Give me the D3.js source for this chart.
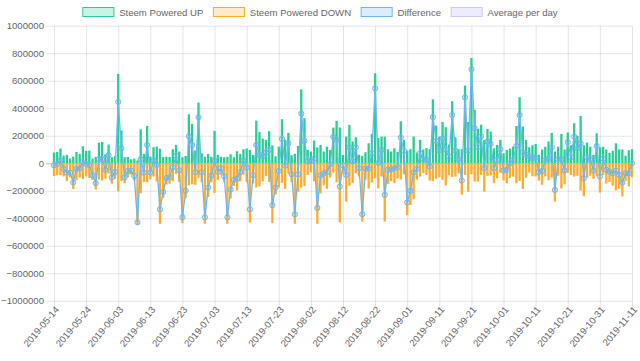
<!DOCTYPE html>
<html><head><meta charset="utf-8">
<script src="https://cdn.jsdelivr.net/npm/d3@7"></script>
<style>body{margin:0;background:#fff}svg{display:block}text{font-family:"Liberation Sans",Arial,Helvetica,sans-serif}</style>
</head><body><svg id="c" width="640" height="361"></svg>
<script>
// ---- data ----
const startDate = "2019-05-14", endDate = "2019-11-11", skippedDate = "2019-11-03";
const tickLabels = ["2019-05-14","2019-05-24","2019-06-03","2019-06-13","2019-06-23","2019-07-03","2019-07-13","2019-07-23","2019-08-02","2019-08-12","2019-08-22","2019-09-01","2019-09-11","2019-09-21","2019-10-01","2019-10-11","2019-10-21","2019-10-31","2019-11-11"];
const yTickValues = [1000000,800000,600000,400000,200000,0,-200000,-400000,-600000,-800000,-1000000];
const seriesNames = ["Steem Powered UP","Steem Powered DOWN","Difference","Average per day"];
const UNIT = 1000;
// values in thousands
const poweredUpK = [78,82,107,56,61,34,48,82,68,124,
90,92,34,46,150,155,65,136,44,51,
650,238,44,46,29,34,20,247,68,271,
48,116,121,106,44,48,46,102,133,85,
43,53,356,286,92,441,73,47,68,48,
235,61,48,44,47,65,44,87,68,102,
107,96,60,310,228,179,170,233,130,50,
121,320,170,220,58,69,126,538,327,97,
85,165,115,133,85,121,97,259,308,260,
60,194,279,158,189,61,53,80,145,213,
654,184,194,194,102,85,109,82,305,170,
92,102,194,78,170,100,110,102,465,274,
194,300,262,136,451,189,102,102,565,300,
765,388,250,280,170,250,230,109,133,170,
73,97,107,121,271,480,267,170,116,130,
140,61,100,120,158,220,85,120,213,100,
223,130,291,200,344,131,150,120,60,218,
116,120,100,75,90,145,100,100,55,95,102];
const poweredDownK = [-93,-87,-87,-96,-129,-102,-188,-123,-104,-114,
-95,-107,-121,-191,-119,-126,-113,-76,-148,-114,
-204,-129,-146,-102,-82,-126,-449,-218,-136,-138,
-116,-96,-133,-441,-252,-155,-148,-131,-77,-136,
-436,-252,-160,-153,-157,-106,-138,-440,-245,-138,
-216,-122,-84,-139,-440,-256,-165,-198,-131,-83,
-138,-431,-147,-177,-167,-131,-92,-136,-435,-227,
-177,-143,-187,-75,-138,-440,-206,-177,-165,-85,
-66,-131,-440,-220,-160,-186,-104,-68,-138,-430,
-75,-279,-163,-143,-73,-97,-424,-119,-184,-140,
-109,-182,-97,-424,-150,-129,-145,-111,-118,-80,
-378,-303,-262,-119,-97,-71,-86,-126,-130,-112,
-102,-120,-162,-88,-100,-97,-73,-228,-86,-208,
-81,-133,-134,-84,-206,-92,-89,-145,-109,-68,
-126,-145,-107,-97,-145,-129,-187,-105,-68,-94,
-96,-126,-156,-96,-124,-104,-279,-91,-184,-153,
-70,-86,-97,-91,-199,-240,-106,-91,-113,-92,
-213,-86,-148,-136,-163,-198,-185,-241,-128,-168,-102];
const differenceK = [-15,-5,20,-40,-68,-68,-140,-41,-36,10,
-5,-15,-87,-145,31,29,-48,60,-104,-63,
446,109,-102,-56,-53,-92,-429,29,-68,133,
-68,20,-12,-335,-208,-107,-102,-29,56,-51,
-393,-199,196,133,-65,335,-65,-393,-177,-90,
19,-61,-36,-95,-393,-191,-121,-111,-63,19,
-31,-335,-87,133,61,48,78,97,-305,-177,
-56,177,-17,145,-80,-371,-80,361,162,12,
19,34,-325,-87,-75,-65,-7,191,170,-170,
-15,-85,116,15,116,-36,-371,-39,-39,73,
545,2,97,-230,-48,-44,-36,-29,187,90,
-286,-201,-68,-41,73,29,24,-24,335,162,
92,180,100,48,351,92,29,-126,479,92,
684,255,116,196,-36,158,141,-36,24,102,
-53,-48,0,24,126,351,80,65,48,36,
44,-65,-56,24,34,116,-194,29,29,-53,
153,44,194,109,145,-109,44,29,-53,126,
-97,34,-48,-61,-73,-53,-85,-141,-73,-73,0];

// ---- build ----
const parse = d3.utcParse("%Y-%m-%d"), fmt = d3.utcFormat("%Y-%m-%d");
const categories = d3.utcDay.range(parse(startDate), d3.utcDay.offset(parse(endDate), 1))
  .map(fmt).filter(d => d !== skippedDate);
const up = poweredUpK.map(v => v * UNIT), down = poweredDownK.map(v => v * UNIT), diff = differenceK.map(v => v * UNIT);

const L = 54, R = 632, T = 25.7, B = 300.8;
const svg = d3.select("#c");
const x = d3.scalePoint().domain(categories).range([L, R]);
const y = d3.scaleLinear().domain([-1000000, 1000000]).range([B, T]);
const FS = 9.6, txt = "#666";

// grid
const g = svg.append("g");
g.selectAll("line.h").data(yTickValues).join("line")
  .attr("x1", L - 8).attr("x2", R).attr("y1", d => y(d) + 0.5).attr("y2", d => y(d) + 0.5)
  .attr("stroke", d => d === 0 ? "rgba(0,0,0,0.25)" : "rgba(0,0,0,0.1)").attr("stroke-width", 1);
g.selectAll("line.v").data(tickLabels).join("line")
  .attr("x1", d => x(d) + 0.5).attr("x2", d => x(d) + 0.5).attr("y1", T).attr("y2", B + 8)
  .attr("stroke", "rgba(0,0,0,0.1)").attr("stroke-width", 1);

// y labels
svg.append("g").selectAll("text").data(yTickValues).join("text")
  .attr("x", L - 10).attr("y", d => y(d)).attr("dy", "0.35em").attr("text-anchor", "end")
  .attr("font-size", FS).attr("fill", txt).text(d => d3.format("d")(d));

// x labels
svg.append("g").selectAll("text").data(tickLabels).join("text")
  .attr("transform", d => `translate(${x(d) + 3},${B + 7}) rotate(-50)`)
  .attr("dy", "0.35em").attr("text-anchor", "end")
  .attr("font-size", FS).attr("fill", txt).text(d => d);

const colors = {
  up: "#27cf95", down: "#ffab2d", diff: "#6cb8ee", avg: "#c9c9f5"
};
const bw = x.step() * 0.72;
const plot = svg.append("g");
plot.selectAll("rect.up").data(categories).join("rect")
  .attr("x", (d) => x(d) - bw / 2).attr("width", bw)
  .attr("y", (d, i) => y(up[i])).attr("height", (d, i) => y(0) - y(up[i]))
  .attr("fill", colors.up);
plot.selectAll("rect.down").data(categories).join("rect")
  .attr("x", (d) => x(d) - bw / 2).attr("width", bw)
  .attr("y", y(0)).attr("height", (d, i) => y(down[i]) - y(0))
  .attr("fill", colors.down);

const line = d3.line().x((d, i) => x(categories[i])).y(d => y(d));
plot.append("path").datum(diff).attr("d", line).attr("fill", "none")
  .attr("stroke", colors.diff).attr("stroke-width", 1.3);
plot.selectAll("circle").data(diff).join("circle")
  .attr("cx", (d, i) => x(categories[i])).attr("cy", d => y(d)).attr("r", 2.6)
  .attr("fill", "rgba(108,184,238,0.25)").attr("stroke", colors.diff).attr("stroke-width", 1);

// legend
const legendItems = [
  {name: seriesNames[0], fill: "rgba(39,207,149,0.25)", stroke: colors.up},
  {name: seriesNames[1], fill: "rgba(255,171,45,0.25)", stroke: colors.down},
  {name: seriesNames[2], fill: "rgba(108,184,238,0.25)", stroke: colors.diff},
  {name: seriesNames[3], fill: "rgba(201,201,245,0.35)", stroke: colors.avg}
];
const lg = svg.append("g");
const boxW = 32, boxH = 10, pad = 9.6;
const items = lg.selectAll("g").data(legendItems).join("g");
items.append("rect").attr("x", 0.5).attr("y", 7.5).attr("width", boxW - 1).attr("height", boxH - 1)
  .attr("fill", d => d.fill).attr("stroke", d => d.stroke).attr("stroke-width", 1);
items.append("text").attr("x", boxW + FS / 2).attr("y", 12.5).attr("dy", "0.35em")
  .attr("font-size", FS).attr("fill", txt).text(d => d.name);
const widths = [];
items.each(function() { widths.push(boxW + FS / 2 + this.querySelector("text").getComputedTextLength()); });
const total = d3.sum(widths) + pad * (widths.length - 1);
let cx = (640 - total) / 2;
items.attr("transform", (d, i) => { const t = `translate(${cx},0)`; cx += widths[i] + pad; return t; });
</script></body></html>
